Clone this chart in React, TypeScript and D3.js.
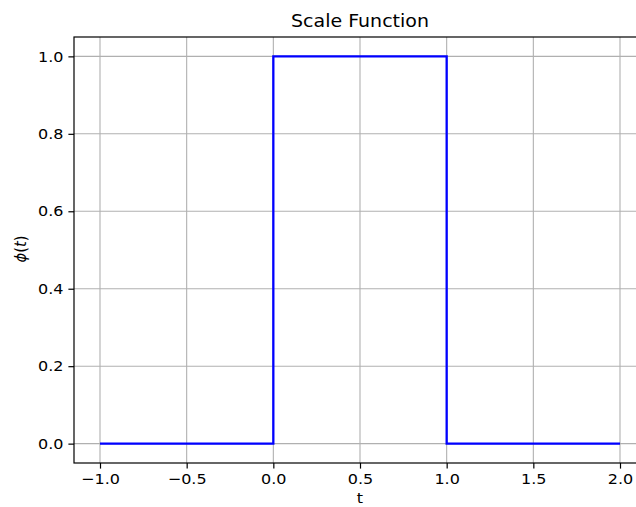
import { useEffect, useRef } from 'react';
import * as d3 from 'd3';

// step function samples
const tPoints = [-1, 0, 0, 1, 1, 2];
const phiValues = [0, 0, 1, 1, 0, 0];

const xTicks = [-1.0, -0.5, 0.0, 0.5, 1.0, 1.5, 2.0];
const yTicks = [0.0, 0.2, 0.4, 0.6, 0.8, 1.0];

const title = 'Scale Function';
const xLabel = 't';

const W = 636;
const H = 507;
const margin = { top: 37, right: -10, bottom: 44, left: 74 };

const App = () => {
  const svgRef = useRef<SVGSVGElement>(null);

  useEffect(() => {
    if (!svgRef.current) return;
    const svg = d3.select(svgRef.current);
    svg.selectAll('*').remove();

    const x0 = margin.left;
    const x1 = W - margin.right;
    const y0 = margin.top;
    const y1 = H - margin.bottom;

    const xScale = d3.scaleLinear().domain([-1.15, 2.15]).range([x0, x1]);
    const yScale = d3.scaleLinear().domain([-0.05, 1.05]).range([y1, y0]);

    const fmt = d3.format('.1f');
    const font = 'DejaVu Sans, sans-serif';
    // the reference text is a little squashed vertically
    const squash = 'scale(1,0.92)';

    svg.append('rect').attr('width', W).attr('height', H).attr('fill', '#fff');

    // grid
    const grid = svg.append('g').attr('stroke', '#b0b0b0').attr('stroke-width', 1.1);
    grid.selectAll('line.gx')
      .data(xTicks)
      .enter()
      .append('line')
      .attr('x1', d => xScale(d))
      .attr('x2', d => xScale(d))
      .attr('y1', y0)
      .attr('y2', y1);
    grid.selectAll('line.gy')
      .data(yTicks)
      .enter()
      .append('line')
      .attr('x1', x0)
      .attr('x2', x1)
      .attr('y1', d => yScale(d))
      .attr('y2', d => yScale(d));

    // the step line
    const pts = tPoints.map((t, i) => [t, phiValues[i]] as [number, number]);
    const line = d3.line<[number, number]>()
      .x(d => xScale(d[0]))
      .y(d => yScale(d[1]));
    svg.append('path')
      .datum(pts)
      .attr('d', line)
      .attr('fill', 'none')
      .attr('stroke', '#0000ff')
      .attr('stroke-width', 2.3)
      .attr('stroke-linejoin', 'miter');

    // spines
    svg.append('rect')
      .attr('x', x0)
      .attr('y', y0)
      .attr('width', x1 - x0)
      .attr('height', y1 - y0)
      .attr('fill', 'none')
      .attr('stroke', '#000')
      .attr('stroke-width', 1.2);

    // x axis
    const xAxis = svg.append('g')
      .attr('transform', `translate(0,${y1})`)
      .call(d3.axisBottom(xScale).tickValues(xTicks).tickFormat(d => fmt(d as number)).tickSize(5.6).tickPadding(5.5));
    xAxis.select('.domain').remove();
    xAxis.selectAll('line').attr('stroke', '#000').attr('stroke-width', 1.2);
    xAxis.selectAll('text')
      .attr('font-family', font)
      .attr('font-size', 16)
      .attr('fill', '#000')
      .attr('transform', squash);

    // y axis
    const yAxis = svg.append('g')
      .attr('transform', `translate(${x0},0)`)
      .call(d3.axisLeft(yScale).tickValues(yTicks).tickFormat(d => fmt(d as number)).tickSize(5.6).tickPadding(5));
    yAxis.select('.domain').remove();
    yAxis.selectAll('line').attr('stroke', '#000').attr('stroke-width', 1.2);
    yAxis.selectAll('text')
      .attr('font-family', font)
      .attr('font-size', 16)
      .attr('fill', '#000')
      .attr('transform', squash);

    const cx = (x0 + x1) / 2;

    // title
    svg.append('text')
      .attr('transform', `translate(${cx},27) ${squash}`)
      .attr('text-anchor', 'middle')
      .attr('font-family', font)
      .attr('font-size', 19)
      .attr('fill', '#000')
      .text(title);

    // x label
    svg.append('text')
      .attr('transform', `translate(${cx},503) ${squash}`)
      .attr('text-anchor', 'middle')
      .attr('font-family', font)
      .attr('font-size', 16)
      .attr('fill', '#000')
      .text(xLabel);

    // y label, mathtext-like
    const yl = svg.append('text')
      .attr('transform', `translate(26,${(y0 + y1) / 2 - 1}) rotate(-90) scale(0.92,1)`)
      .attr('text-anchor', 'middle')
      .attr('font-family', font)
      .attr('font-size', 16)
      .attr('fill', '#000');
    yl.append('tspan').attr('font-style', 'italic').text('ϕ');
    yl.append('tspan').text('(');
    yl.append('tspan').attr('font-style', 'italic').text('t');
    yl.append('tspan').text(')');
  }, []);

  return (
    <svg
      ref={svgRef}
      width={W}
      height={H}
      style={{ position: 'absolute', left: 0, top: 0 }}
    />
  );
};

export default App;
